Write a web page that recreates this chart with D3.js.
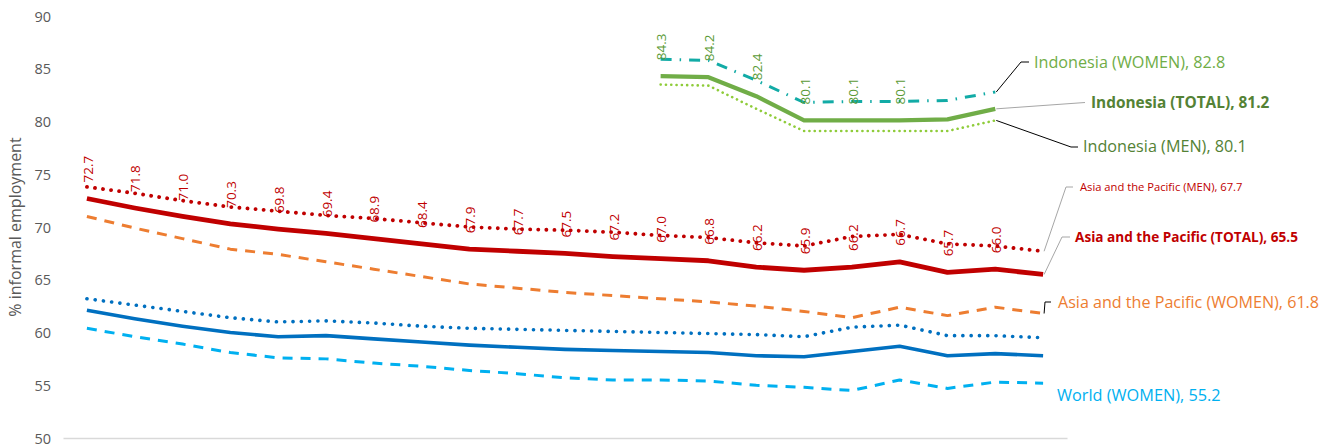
<!DOCTYPE html>
<html><head><meta charset="utf-8">
<script src="https://cdn.jsdelivr.net/npm/d3@7"></script>
<style>
html,body{margin:0;padding:0;background:#fff;}
svg{display:block;font-family:"Open Sans",sans-serif;}
</style></head>
<body>
<svg id="chart" width="1337" height="448"></svg>
<script>
const years = ["2000","2001","2002","2003","2004","2005","2006","2007","2008","2009","2010","2011","2012","2013","2014","2015","2016","2017","2018","2019","2020"];
const yTicks = [50,55,60,65,70,75,80,85,90];

const apTotal = [72.7,71.8,71.0,70.3,69.8,69.4,68.9,68.4,67.9,67.7,67.5,67.2,67.0,66.8,66.2,65.9,66.2,66.7,65.7,66.0,65.5];
const apMen   = [73.8,73.2,72.5,71.9,71.5,71.1,70.8,70.4,70.0,69.8,69.7,69.5,69.2,69.0,68.5,68.2,69.1,69.3,68.4,68.2,67.7];
const apWomen = [71.0,69.9,68.9,67.9,67.4,66.7,66.0,65.3,64.6,64.2,63.8,63.5,63.2,62.9,62.5,62.0,61.4,62.4,61.6,62.4,61.8];

const worldTotal = [62.1,61.3,60.6,60.0,59.6,59.7,59.4,59.1,58.8,58.6,58.4,58.3,58.2,58.1,57.8,57.7,58.2,58.7,57.8,58.0,57.8];
const worldMen   = [63.2,62.6,62.0,61.4,61.0,61.1,60.9,60.6,60.4,60.3,60.2,60.1,60.0,59.9,59.8,59.6,60.5,60.7,59.7,59.7,59.5];
const worldWomen = [60.4,59.6,58.9,58.1,57.6,57.5,57.1,56.8,56.4,56.1,55.7,55.5,55.5,55.4,55.0,54.8,54.5,55.5,54.7,55.3,55.2];

const idYears = ["2012","2013","2014","2015","2016","2017","2018","2019"];
const idTotal = [84.3,84.2,82.4,80.1,80.1,80.1,80.2,81.2];
const idMen   = [83.5,83.4,81.2,79.1,79.1,79.1,79.1,80.1];
const idWomen = [85.9,85.8,83.9,81.8,81.9,81.9,82.0,82.8];

const apTotalLabelCount = 20;   // data labels shown on first 20 points
const idTotalLabelCount = 6;    // data labels shown on first 6 points

const svg = d3.select("#chart");
const x = d3.scalePoint().domain(years).range([63,1067]).padding(0.5);
const y = d3.scaleLinear().domain([50,90]).range([438,16]);

// y axis labels
const yAxis = d3.axisLeft(y).tickValues(yTicks).tickSize(0).tickPadding(0);
const gy = svg.append("g").attr("transform","translate(51,0)").call(yAxis);
gy.select(".domain").remove();
gy.selectAll("text").attr("fill","#595959").style("font-size","14.5px").style("font-family","'Open Sans',sans-serif").attr("dy","0.35em");

// x axis line
const xAxis = d3.axisBottom(x).tickSize(0).tickFormat("");
const gx = svg.append("g").attr("transform","translate(0,438)").call(xAxis);
gx.select(".domain").attr("stroke","#d9d9d9").attr("stroke-width",1.3);

svg.append("text").attr("transform","translate(21,227) rotate(-90)")
  .attr("text-anchor","middle").attr("fill","#595959").style("font-size","16px")
  .text("% informal employment");

function draw(cats, vals, style){
  const line = d3.line().x((d,i)=>x(cats[i])).y(d=>y(d));
  const p = svg.append("path").datum(vals).attr("d",line).attr("fill","none")
    .attr("stroke",style.color).attr("stroke-width",style.w)
    .attr("stroke-linejoin","round");
  if(style.dash) p.attr("stroke-dasharray",style.dash);
  p.attr("stroke-linecap", style.cap || "butt");
}

draw(years, worldWomen, {color:"#00B0F0", w:3, dash:"10 8"});
draw(years, worldMen, {color:"#0070C0", w:3.6, dash:"0.1 8.2", cap:"round"});
draw(years, worldTotal, {color:"#0070C0", w:3.6});
draw(years, apWomen, {color:"#ED7D31", w:3, dash:"10 8"});
draw(years, apMen, {color:"#C00000", w:3.8, dash:"0.1 8", cap:"round"});
draw(years, apTotal, {color:"#C00000", w:4.8});
draw(idYears, idWomen, {color:"#12ABA6", w:3, dash:"11 8 1.5 8"});
draw(idYears, idMen, {color:"#8FCC3A", w:2.6, dash:"0.1 5.2", cap:"round"});
draw(idYears, idTotal, {color:"#70AD47", w:4.2});

// data labels
function dataLabels(cats, vals, count, color){
  svg.append("g").selectAll("text").data(vals.slice(0,count)).join("text")
    .attr("transform",(d,i)=>`translate(${x(cats[i])+1},${y(d)-16}) rotate(-90)`)
    .attr("dy","0.35em").attr("fill",color).style("font-size","13.5px")
    .text(d=>d3.format(".1f")(d));
}
dataLabels(years, apTotal, apTotalLabelCount, "#C00000");
dataLabels(idYears, idTotal, idTotalLabelCount, "#5A9A36");

// end labels
const endLabels = [
  {cats:idYears, vals:idWomen, text:"Indonesia (WOMEN), ", color:"#70AD47", size:16.2, bold:false, lx:1034, ly:62, lead:"#000", path:[[1021,62],[1029,62]]},
  {cats:idYears, vals:idTotal, text:"Indonesia (TOTAL), ", color:"#548235", size:15.4, bold:true, lx:1091, ly:103, lead:"#A6A6A6", path:[[1085,102.5]]},
  {cats:idYears, vals:idMen, text:"Indonesia (MEN), ", color:"#548235", size:16.2, bold:false, lx:1083, ly:146, lead:"#000", path:[[1071,147],[1078,147]]},
  {cats:years, vals:apMen, text:"Asia and the Pacific (MEN), ", color:"#C00000", size:11.2, bold:false, lx:1080, ly:187, lead:"#A6A6A6", path:[[1066,187],[1073,187]]},
  {cats:years, vals:apTotal, text:"Asia and the Pacific (TOTAL), ", color:"#C00000", size:13.6, bold:true, lx:1075, ly:237, lead:"#A6A6A6", path:[[1062,237],[1070,237]]},
  {cats:years, vals:apWomen, text:"Asia and the Pacific (WOMEN), ", color:"#ED7D31", size:16.1, bold:false, lx:1058, ly:302, lead:"#000", path:[[1045,302],[1051,302]]},
  {cats:years, vals:worldWomen, text:"World (WOMEN), ", color:"#00B0F0", size:16.3, bold:false, lx:1057, ly:395, lead:null, path:[]}
];
endLabels.forEach(e=>{
  const n = e.vals.length-1;
  const px = x(e.cats[n]), py = y(e.vals[n]);
  if(e.lead){
    const pts = [[px+1,py]].concat(e.path);
    svg.append("path").attr("d",d3.line()(pts)).attr("fill","none")
      .attr("stroke",e.lead).attr("stroke-width",1);
  }
  svg.append("text").attr("x",e.lx).attr("y",e.ly).attr("dy","0.35em")
    .attr("fill",e.color).style("font-size",e.size+"px")
    .style("font-weight",e.bold?"bold":"normal")
    .text(e.text + d3.format(".1f")(e.vals[n]));
});
</script>
</body></html>
